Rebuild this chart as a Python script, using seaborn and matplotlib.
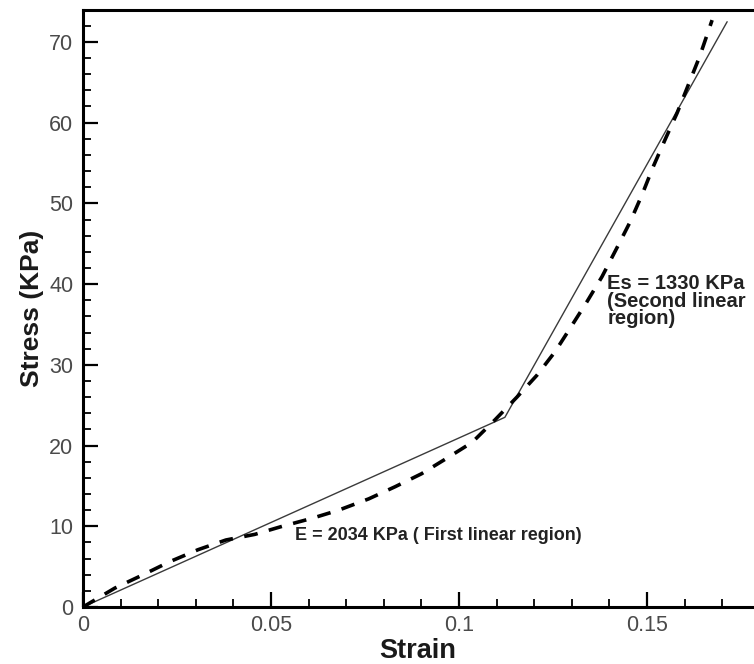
import matplotlib
matplotlib.use("Agg")
import matplotlib.pyplot as plt
from matplotlib import font_manager
from matplotlib.ticker import MultipleLocator, FixedFormatter, FixedLocator
import seaborn as sns
import pandas as pd

# ---- data ----
strain_fit = [0.0, 0.1122, 0.1713]
stress_fit = [0.0, 23.5, 72.5]

strain_exp = [0.0, 0.0085, 0.016, 0.023, 0.0306, 0.038, 0.0457, 0.053, 0.061,
              0.068, 0.076, 0.083, 0.090, 0.097, 0.1035, 0.1096, 0.1154, 0.1207,
              0.1255, 0.1295, 0.134, 0.138, 0.142, 0.1455, 0.1487, 0.1516,
              0.1548, 0.158, 0.161, 0.164, 0.1673]
stress_exp = [0.0, 2.35, 4.0, 5.6, 7.1, 8.3, 9.0, 10.0, 11.0, 12.0, 13.4, 14.9,
              16.5, 18.5, 20.4, 23.2, 26.0, 28.7, 31.6, 34.5, 37.8, 40.9, 44.5,
              47.7, 51.1, 54.5, 57.9, 61.2, 64.7, 68.2, 72.7]

x_ticks = [0, 0.05, 0.1, 0.15]
x_tick_labels = ["0", "0.05", "0.1", "0.15"]
y_ticks = [0, 10, 20, 30, 40, 50, 60, 70]
y_tick_labels = ["0", "10", "20", "30", "40", "50", "60", "70"]

label_first = "E = 2034 KPa ( First linear region)"
label_second = "Es = 1330 KPa\n(Second linear\nregion)"

df_fit = pd.DataFrame({"Strain": strain_fit, "Stress": stress_fit})
df_exp = pd.DataFrame({"Strain": strain_exp, "Stress": stress_exp})

sns.set_theme(style="white")
avail = {f.name for f in font_manager.fontManager.ttflist}
base = "Liberation Sans" if "Liberation Sans" in avail else "DejaVu Sans"
plt.rcParams["font.family"] = [base, "DejaVu Sans"]

fig = plt.figure(figsize=(7.54, 6.64), dpi=100)
ax = fig.add_axes([0.110, 0.0858, 0.8873, 0.8985])

sns.lineplot(data=df_fit, x="Strain", y="Stress", ax=ax, color="#3a3a3a",
             linewidth=1.0, estimator=None, sort=False)
sns.lineplot(data=df_exp, x="Strain", y="Stress", ax=ax, color="black",
             linewidth=2.6, estimator=None, sort=False, dashes=False)
ax.lines[-1].set_dashes((3.8, 3.2))
ax.lines[-1].set_dash_capstyle("butt")

ax.set_xlim(0, 0.1779)
ax.set_ylim(0, 73.9)

ax.xaxis.set_major_locator(FixedLocator(x_ticks))
ax.xaxis.set_major_formatter(FixedFormatter(x_tick_labels))
ax.xaxis.set_minor_locator(MultipleLocator(0.01))
ax.yaxis.set_major_locator(FixedLocator(y_ticks))
ax.yaxis.set_major_formatter(FixedFormatter(y_tick_labels))
ax.yaxis.set_minor_locator(MultipleLocator(2))

ax.tick_params(which="major", direction="in", length=11, width=1.6,
               color="black", labelsize=15.5, labelcolor="#4a4a4a")
ax.tick_params(which="minor", direction="in", length=6, width=1.3, color="black")
ax.tick_params(axis="x", which="major", pad=6)
ax.tick_params(axis="y", which="major", pad=7)
ax.tick_params(which="both", bottom=True, left=True, top=False, right=False)

for s in ["left", "bottom", "top"]:
    ax.spines[s].set_linewidth(2.2)
    ax.spines[s].set_color("black")
ax.spines["right"].set_visible(False)

ax.set_xlabel("Strain", fontsize=19.5, fontweight="bold", color="#1a1a1a", labelpad=1)
ax.set_ylabel("Stress (KPa)", fontsize=19, fontweight="bold", color="#1a1a1a", labelpad=4)

ax.text(0.0564, 8.8, label_first, ha="left", va="center", fontsize=13,
        fontweight="bold", color="#222222")
ax.text(0.1394, 41.2, label_second, ha="left", va="top", fontsize=14.5,
        fontweight="bold", color="#222222", linespacing=0.9)

fig.savefig("out.png", dpi=100)
